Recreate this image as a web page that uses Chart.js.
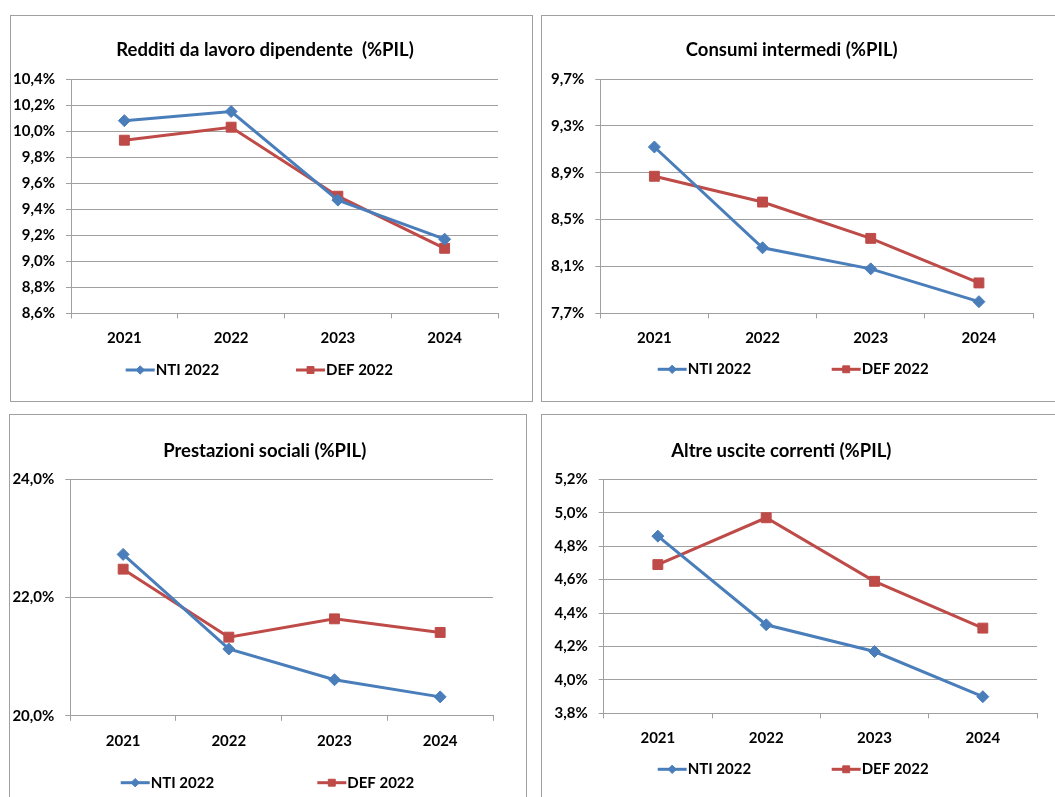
<!DOCTYPE html>
<html>
<head>
<meta charset="utf-8">
<script src="https://cdn.jsdelivr.net/npm/chart.js@4.4.1/dist/chart.umd.min.js"></script>
<style>
  body { margin: 0; background: #fff; overflow: hidden; }
  .panel { position: absolute; border: 1px solid #a0a0a0; background: #fff; }
</style>
</head>
<body>
<div class="panel" style="left:10px; top:15px; width:521px; height:385px;"><canvas id="c1"></canvas></div>
<div class="panel" style="left:541px; top:15px; width:518px; height:385px;"><canvas id="c2"></canvas></div>
<div class="panel" style="left:9px; top:414px; width:516px; height:398px;"><canvas id="c3"></canvas></div>
<div class="panel" style="left:541px; top:414px; width:518px; height:398px;"><canvas id="c4"></canvas></div>
<script>
// Data (% of GDP)
const years = ["2021", "2022", "2023", "2024"];
const seriesNames = ["NTI 2022", "DEF 2022"];

const redditiNti = [10.08, 10.15, 9.47, 9.17];
const redditiDef = [9.93, 10.03, 9.5, 9.1];
const consumiNti = [9.12, 8.26, 8.08, 7.8];
const consumiDef = [8.87, 8.65, 8.34, 7.96];
const prestazioniNti = [22.73, 21.13, 20.61, 20.32];
const prestazioniDef = [22.48, 21.33, 21.64, 21.41];
const altreNti = [4.86, 4.33, 4.17, 3.9];
const altreDef = [4.69, 4.97, 4.59, 4.31];

// y axis: min, max, step
const redditiAxis = [8.6, 10.4, 0.2];
const consumiAxis = [7.7, 9.7, 0.4];
const prestazioniAxis = [20, 24, 2];
const altreAxis = [3.8, 5.2, 0.2];

const blue = "#4a7ebb";
const red = "#be4b48";
const gridGray = "#a0a0a0";

Chart.defaults.font.family = "Lato, 'Liberation Sans', Arial, sans-serif";
Chart.defaults.color = "#000";

// Excel-style legend: short line with the marker in the middle, then the label
const lineLegend = {
  id: "lineLegend",
  afterDraw(chart, args, opts) {
    const ctx = chart.ctx;
    chart.data.datasets.forEach((ds, i) => {
      const x = opts.x[i];
      const y = opts.y;
      ctx.save();
      ctx.strokeStyle = ds.borderColor;
      ctx.lineWidth = 3;
      ctx.beginPath();
      ctx.moveTo(x, y);
      ctx.lineTo(x + 29, y);
      ctx.stroke();
      ctx.fillStyle = ds.backgroundColor;
      ctx.lineWidth = 1;
      Chart.helpers.drawPoint(ctx, { pointStyle: ds.pointStyle, radius: ds.pointRadius * 0.7, borderWidth: 1 }, x + 14.5, y);
      ctx.fillStyle = "#000";
      ctx.font = "bold 15px " + Chart.defaults.font.family;
      ctx.textBaseline = "middle";
      ctx.textAlign = "left";
      ctx.fillText(ds.label, x + 30, y);
      ctx.restore();
    });
  },
};

function makeChart(id, title, nti, def, axis, box) {
  const ctx = document.getElementById(id).getContext("2d");
  return new Chart(ctx, {
    type: "line",
    data: {
      labels: years,
      datasets: [
        {
          label: seriesNames[0],
          data: nti,
          borderColor: blue,
          backgroundColor: blue,
          borderWidth: 3,
          pointStyle: "rectRot",
          pointRadius: 6,
          pointBorderWidth: 1,
          tension: 0,
        },
        {
          label: seriesNames[1],
          data: def,
          borderColor: red,
          backgroundColor: red,
          borderWidth: 3,
          pointStyle: "rect",
          pointRadius: 7,
          pointBorderWidth: 1,
          tension: 0,
        },
      ],
    },
    options: {
      responsive: true,
      maintainAspectRatio: false,
      animation: false,
      layout: {
        padding: { left: box.padL, right: box.padR, top: 0, bottom: box.padB },
      },
      plugins: {
        legend: { display: false },
        tooltip: { enabled: false },
        title: {
          display: true,
          text: title,
          font: { size: 18.5, weight: "bold" },
          padding: { top: box.titleTop, bottom: box.titleBottom },
        },
        lineLegend: { x: box.legendX, y: box.legendY },
      },
      scales: {
        x: {
          offset: true,
          grid: {
            offset: true,
            drawOnChartArea: false,
            drawTicks: true,
            tickLength: 5,
            color: gridGray,
          },
          border: { display: true, color: gridGray, width: 1 },
          ticks: { font: { size: 15, weight: "bold" }, padding: 11, maxRotation: 0 },
        },
        y: {
          min: axis[0],
          max: axis[1],
          afterFit: (scale) => {
            scale.width = box.yWidth;
          },
          grid: { color: gridGray, tickLength: 5, lineWidth: 1 },
          border: { display: true, color: gridGray, width: 1 },
          ticks: {
            stepSize: axis[2],
            padding: 11,
            font: { size: 15, weight: "bold" },
            callback: (v) => v.toFixed(1).replace(".", ",") + "%",
          },
        },
        // empty strip on the right, only to keep the plot where the original has it
        gap: {
          type: "linear",
          axis: "y",
          position: "right",
          display: box.rightGap > 0,
          grid: { display: false },
          border: { display: false },
          ticks: { display: false },
          afterFit: (scale) => {
            scale.width = box.rightGap;
          },
        },
      },
    },
    plugins: [lineLegend],
  });
}

makeChart("c1", "Redditi da lavoro dipendente  (%PIL)", redditiNti, redditiDef, redditiAxis, {
  padL: 0, yWidth: 60, rightGap: 21, padR: 13, padB: 42.6, titleTop: 23.4, titleBottom: 17.4,
  legendX: [114.7, 285], legendY: 354,
});
makeChart("c2", "Consumi intermedi (%PIL)", consumiNti, consumiDef, consumiAxis, {
  padL: 0, yWidth: 58.3, rightGap: 8.4, padR: 18.6, padB: 42.6, titleTop: 23.4, titleBottom: 17.4,
  legendX: [115.7, 289.7], legendY: 353.3,
});
makeChart("c3", "Prestazioni sociali (%PIL)", prestazioniNti, prestazioniDef, prestazioniAxis, {
  padL: 0, yWidth: 60.3, rightGap: 26.4, padR: 6.6, padB: 52.2, titleTop: 25.1, titleBottom: 17,
  legendX: [110.7, 307.3], legendY: 367.7,
});
makeChart("c4", "Altre uscite correnti (%PIL)", altreNti, altreDef, altreAxis, {
  padL: -16.4, yWidth: 78.1, rightGap: 0, padR: 23, padB: 54.6, titleTop: 25.1, titleBottom: 17,
  legendX: [115.7, 289.7], legendY: 354.3,
});
</script>
</body>
</html>
